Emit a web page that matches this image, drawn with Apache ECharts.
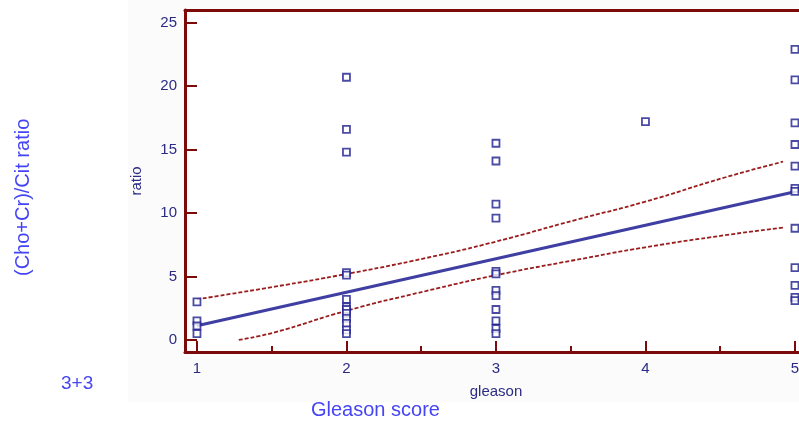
<!DOCTYPE html>
<html>
  <head>
    <meta charset="UTF-8" />
    <script src="https://cdn.jsdelivr.net/npm/echarts@6/dist/echarts.min.js"></script>
    <title>ratio vs gleason</title>
    <style>
      html, body { margin: 0; padding: 0; background: #fff; }
      #main { width: 799px; height: 423px; }
    </style>
  </head>
  <body>
    <div id="main"></div>
    <script>
      // measured points (gleason, ratio)
      const pointX = [
        1, 1, 1, 1,
        2, 2, 2, 2, 2, 2, 2, 2, 2, 2, 2, 2, 2,
        3, 3, 3, 3, 3, 3, 3, 3, 3, 3, 3, 3,
        4,
        5, 5, 5, 5, 5, 5, 5, 5, 5, 5, 5, 5
      ];
      const pointY = [
        3.0, 1.5, 1.1, 0.5,
        20.7, 16.6, 14.8, 5.3, 5.1, 3.2, 2.6, 2.4, 2.1, 1.7, 1.3, 0.8, 0.5,
        15.5, 14.1, 10.7, 9.6, 5.4, 5.2, 3.9, 3.5, 2.4, 1.5, 0.9, 0.5,
        17.2,
        22.9, 20.5, 17.1, 15.4, 13.7, 11.95, 11.7, 8.8, 5.7, 4.3, 3.35, 3.1
      ];
      // regression line
      const fitX = [1, 5];
      const fitY = [1.12, 11.68];
      // 95% confidence band
      const upperX = [1, 1.52, 2, 2.53, 3, 3.53, 4, 4.53, 4.92];
      const upperY = [3.2, 4.2, 5.2, 6.45, 7.75, 9.45, 10.9, 12.8, 14.05];
      const lowerX = [1.28, 1.52, 2, 2.53, 3, 3.53, 4, 4.53, 4.92];
      const lowerY = [0, 0.6, 2.3, 3.85, 5.1, 6.3, 7.3, 8.25, 8.85];
      const xTicks = [1, 2, 3, 4, 5];
      const xMinorTicks = [1.5, 2.5, 3.5, 4.5];
      const yTicks = [0, 5, 10, 15, 20, 25];

      const zip = (a, b) => a.map((v, i) => [v, b[i]]);
      const frame = '#7d0a0a';
      const navy = '#2b2b85';
      const blue = '#4545f5';
      const xMin = 0.92, xMax = 5.027;

      const chart = echarts.init(document.getElementById('main'));
      chart.setOption({
        animation: false,
        textStyle: { fontFamily: 'Liberation Sans, Arial, sans-serif' },
        graphic: [
          { type: 'rect', z: -10, shape: { x: 128, y: 0, width: 671, height: 402 }, style: { fill: '#fbfbfb' } },
          { type: 'text', rotation: Math.PI / 2, x: 13, y: 276, style: { text: '(Cho+Cr)/Cit ratio', fill: blue, fontSize: 20, fontFamily: 'Liberation Sans' } },
          { type: 'text', x: 61, y: 374, style: { text: '3+3', fill: blue, fontSize: 19, fontFamily: 'Liberation Sans' } },
          { type: 'text', x: 311, y: 400, style: { text: 'Gleason score', fill: blue, fontSize: 20, fontFamily: 'Liberation Sans' } }
        ],
        grid: {
          left: 185, top: 10, right: 0, bottom: 71,
          outerBoundsMode: 'none',
          show: true, borderWidth: 0, backgroundColor: '#fff'
        },
        xAxis: [
          {
            type: 'value', min: xMin, max: xMax,
            name: 'gleason', nameLocation: 'middle', nameGap: 32,
            nameTextStyle: { color: navy, fontSize: 15, padding: [0, 0, 0, 8] },
            splitLine: { show: false },
            axisLine: { onZero: false, lineStyle: { color: frame, width: 3 } },
            axisTick: { inside: true, length: 11, customValues: xTicks, lineStyle: { color: frame, width: 2 } },
            axisLabel: { customValues: xTicks, color: navy, fontSize: 15, margin: 9 }
          },
          {
            type: 'value', min: xMin, max: xMax, position: 'bottom',
            splitLine: { show: false },
            axisLine: { show: false, onZero: false },
            axisTick: { inside: true, length: 6, customValues: xMinorTicks, lineStyle: { color: frame, width: 2 } },
            axisLabel: { show: false }
          },
          {
            type: 'value', min: xMin, max: xMax, position: 'top',
            splitLine: { show: false },
            axisLine: { onZero: false, lineStyle: { color: frame, width: 3 } },
            axisTick: { show: false },
            axisLabel: { show: false }
          }
        ],
        yAxis: {
          type: 'value', min: -0.95, max: 26,
          name: 'ratio', nameLocation: 'middle', nameGap: 41, nameRotate: 90,
          nameTextStyle: { color: navy, fontSize: 15 },
          splitLine: { show: false },
          axisLine: { onZero: false, lineStyle: { color: frame, width: 3 } },
          axisTick: { inside: true, length: 12, customValues: yTicks, lineStyle: { color: frame, width: 2 } },
          axisLabel: { customValues: yTicks, color: navy, fontSize: 15, margin: 8 }
        },
        series: [
          {
            type: 'line', data: zip(upperX, upperY), symbol: 'none', smooth: true,
            lineStyle: { color: '#9a1c1c', width: 1.8, type: [4, 2] }
          },
          {
            type: 'line', data: zip(lowerX, lowerY), symbol: 'none', smooth: true,
            lineStyle: { color: '#9a1c1c', width: 1.8, type: [4, 2] }
          },
          {
            type: 'line', data: zip(fitX, fitY), symbol: 'none',
            lineStyle: { color: '#3f3fa3', width: 3 }
          },
          {
            type: 'scatter', data: zip(pointX, pointY), symbol: 'rect', symbolSize: 7, z: 5,
            itemStyle: { color: '#fff', borderColor: '#1e1e90', borderWidth: 1.8 }
          }
        ]
      });
    </script>
  </body>
</html>
